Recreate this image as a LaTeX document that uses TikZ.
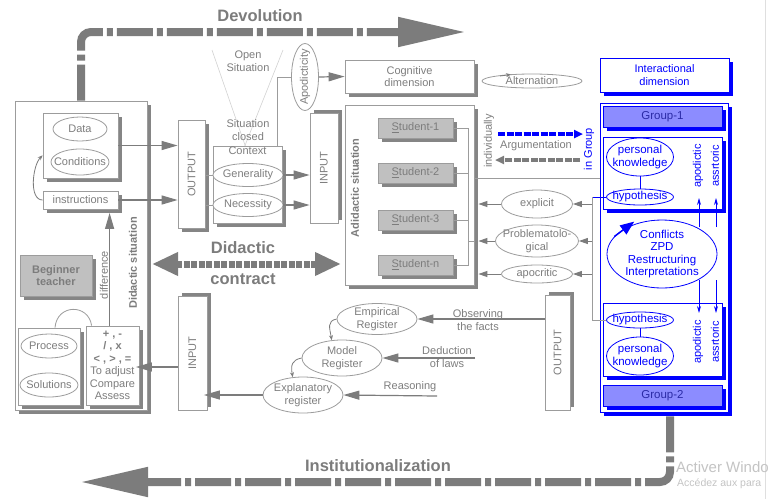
\documentclass[tikz,border=0pt]{standalone}
\usepackage{fontspec}
\setmainfont{Liberation Sans}
\usepackage{tikz}
\usetikzlibrary{positioning,shapes.geometric,shadows,calc,arrows.meta}

\definecolor{tgray}{HTML}{7E7E7E}
\definecolor{lgray}{HTML}{9C9C9C}
\definecolor{sgray}{HTML}{858585}
\definecolor{agray}{HTML}{7C7C7C}
\definecolor{stfill}{HTML}{C0C0C0}
\definecolor{bblue}{HTML}{0000FF}
\definecolor{gfill}{HTML}{8C8CFF}
\definecolor{gtext}{HTML}{2B2BA6}
\definecolor{wmark}{HTML}{C4C4C4}

\newcommand{\dtxt}{\fontsize{11}{12.5}\selectfont}
\newcommand{\btxt}{\fontsize{16.5}{18}\selectfont\bfseries}

\begin{document}
\begin{tikzpicture}[x=1pt, y=-1pt,
    box/.style={draw=lgray, fill=white, line width=0.8pt, align=center,
      font=\dtxt, text=tgray, inner sep=1pt},
    shd/.style={drop shadow={shadow xshift=3.5pt, shadow yshift=-3.5pt,
      fill=sgray, opacity=1}},
    shdup/.style={drop shadow={shadow xshift=3.5pt, shadow yshift=3.5pt,
      fill=sgray, opacity=1}},
    bshd/.style={drop shadow={shadow xshift=4pt, shadow yshift=-4pt,
      fill=bblue, opacity=1}},
    student/.style={box, fill=stfill, text=agray, minimum width=75pt,
      minimum height=20pt, shd},
    bbox/.style={draw=bblue, fill=white, line width=0.8pt, align=center,
      font=\dtxt, text=bblue, inner sep=1pt, bshd},
    group/.style={bbox, fill=gfill, text=gtext, minimum width=119pt,
      minimum height=21pt, font=\fontsize{11.5}{13}\selectfont},
    ell/.style={ellipse, draw=lgray, fill=white, line width=0.8pt, inner sep=0pt},
    bell/.style={ellipse, draw=bblue, fill=white, line width=0.8pt, inner sep=0pt},
    txt/.style={font=\dtxt, text=tgray, align=center, inner sep=1pt},
    every label/.style={font=\dtxt, text=tgray, align=center, inner sep=0pt},
    gline/.style={draw=lgray, line width=0.8pt},
    arrow/.style={draw=agray, line width=1.2pt, -{Triangle[length=16pt, width=9pt]}},
    sarrow/.style={draw=agray, line width=1pt, -{Triangle[length=9pt, width=6pt]}},
    thin arrow/.style={draw=agray, line width=0.8pt, -{Stealth[length=5pt, width=4pt]}},
    barrow/.style={draw=bblue, line width=0.8pt, -{Stealth[length=7pt, width=4pt]}},
    flow/.style={draw=agray, line width=8pt, rounded corners=10pt,
      dash pattern=on 36pt off 4pt on 6pt off 4pt,
      -{Triangle[length=68pt, width=28pt]}},
    contract/.style={draw=agray, line width=7pt, dash pattern=on 6pt off 1.5pt,
      {Triangle[length=26pt, width=22pt]}-{Triangle[length=26pt, width=22pt]}},
    argu/.style={line width=3.2pt, dash pattern=on 7pt off 1.5pt,
      -{Triangle[length=9pt, width=8pt]}}
  ]
    \fill[white] (0,0) rectangle (768,499);
    \useasboundingbox (0,0) rectangle (768,499);
    \draw[gray!25, line width=0.6pt] (765,0) -- (765,499);

    \node[box, minimum width=132pt, minimum height=309pt, shd] (didsit) at (81,255.5) {};
    \node[box, minimum width=75pt, minimum height=65pt, shd] (datab) at (80.5,145.5) {};
    \node[ell, minimum width=54pt, minimum height=24pt, label=center:Data] (data) at (80,129) {};
    \node[ell, minimum width=58pt, minimum height=26pt, label=center:Conditions] (cond) at (80,162) {};
    \node[box, minimum width=75pt, minimum height=18pt, shd] (instr) at (80.5,200) {instructions};
    \node[box, fill=stfill, minimum width=72pt, minimum height=41pt, font=\dtxt\bfseries,
      text=agray, shd] (teacher) at (56,275.5) {Beginner\\teacher};
    \node[box, minimum width=62pt, minimum height=77pt, shd] (procb) at (49,366.5) {};
    \node[ell, minimum width=56pt, minimum height=24pt, label=center:Process] (proc) at (49,346) {};
    \node[ell, minimum width=58pt, minimum height=24pt, label=center:Solutions] (sol) at (49,385) {};
    \node[box, minimum width=53pt, minimum height=79pt, shd] (opb) at (112.5,365.5)
      {\textbf{+ , -}\\\textbf{/ , x}\\\textbf{< , > , =}\\To adjust\\Compare\\Assess};
    \node[txt, rotate=90, font=\dtxt\bfseries, text=agray] (didlab) at (133,263) {Didactic situation};
    \node[txt, rotate=90] (difflab) at (104,275) {difference};
    \coordinate (dft) at ($(opb.north west)+(24,0)$);
    \draw[arrow, shorten >=3.5pt] (dft) -- (dft |- instr.south);
    \draw[thin arrow] (instr.west) .. controls +(-14,0) and +(-10,10) ..
      ($(datab.south west)!0.35!(datab.north west)$);
    \draw[gline] ($(procb.north)+(6,0)$) .. controls +(2,-24) and +(-3,-22) ..
      ($(opb.north west)+(6,0)$);

    \draw[gray!35, line width=0.6pt] (212,50) -- (246,148);
    \draw[gray!35, line width=0.6pt] (283,50) -- (244,148);
    \node[txt] (open) at (248,61) {Open\\Situation};
    \node[txt] (closed) at (248,130) {Situation\\closed};
    \node[box, minimum width=27pt, minimum height=108pt, shd] (out1) at (191.5,174) {\rotatebox{90}{OUTPUT}};
    \node[box, minimum width=69pt, minimum height=77pt, shd] (ctx) at (247.5,184.5) {};
    \node[txt, below=0pt of ctx.north] (ctxlab) {Context};
    \node[ell, minimum width=70pt, minimum height=23pt, label=center:Generality] (gen) at (248,175) {};
    \node[ell, minimum width=70pt, minimum height=23pt, label=center:Necessity] (nec) at (248,205) {};
    \node[box, minimum width=28pt, minimum height=110pt, shdup] (in1) at (324,168) {\rotatebox{90}{INPUT}};
    \node[ell, minimum width=27pt, minimum height=67pt,
      label={[rotate=90]center:Apodicticity}] (apod) at (305,77) {};
    \node[box, minimum width=129pt, minimum height=33pt, shd] (cog) at (409.5,76.5) {Cognitive\\dimension};
    \node[ell, minimum width=100pt, minimum height=14pt, label=center:Alternation] (alt) at (532,81) {};
    \draw[thin arrow] ([xshift=-32pt, yshift=5pt]alt.center) -- ([xshift=-21pt, yshift=6.5pt]alt.center);

    \draw[arrow] (datab.east) -- (datab.east -| out1.west);
    \draw[arrow] (instr.east) -- (instr.east -| out1.west);
    \draw[gline] (gen.west -| out1.east) -- (gen.west);
    \draw[gline] (nec.west -| out1.east) -- (nec.west);
    \draw[arrow] (gen.east) -- (gen.east -| in1.west);
    \draw[arrow] (nec.east) -- (nec.east -| in1.west);
    \draw[gline] ($(ctx.north east)+(-5,0)$) |- (apod.west);
    \draw[arrow] (apod.east) -- (cog.west);

    \node[box, minimum width=129pt, minimum height=180pt, shd] (adid) at (409.5,195) {};
    \node[txt, rotate=90, font=\dtxt\bfseries, text=agray] (adidlab) at (355,188) {Adidactic situation};
    \node[student] (st1) at (415.5,128) {\underline{S}tudent-1};
    \node[student] (st2) at (415.5,173) {\underline{S}tudent-2};
    \node[student] (st3) at (415.5,220) {\underline{S}tudent-3};
    \node[student] (stn) at (415.5,265) {\underline{S}tudent-n};
    \coordinate (jn) at ($(adid.east)+(-6,46)$);
    \foreach \s in {st1,st2,st3,stn}
      \draw[gline] (\s.east) -| (jn);
    \draw[gline] (jn) -- (jn -| adid.east);

    \node[ell, minimum width=71pt, minimum height=28pt, label=center:explicit] (expl) at (537,204) {};
    \node[ell, minimum width=83pt, minimum height=32pt, label={center:Problematolo-\\gical}] (prob) at (537,241) {};
    \node[ell, minimum width=71pt, minimum height=18pt, label=center:apocritic] (apoc) at (537,274) {};
    \draw[sarrow] (expl.west) -- ([xshift=4pt]expl.west -| adid.east);
    \draw[sarrow] (prob.west) -- ([xshift=4pt]prob.west -| adid.east);
    \draw[sarrow] (apoc.west) -- ([xshift=4pt]apoc.west -| adid.east);

    \node[txt, rotate=90] (indiv) at (489,141) {individually};
    \coordinate (argl) at (498,134);
    \coordinate (argr) at (583,134);
    \coordinate (retr) at (580,160);
    \coordinate (retl) at (495,160);
    \draw[argu, draw=bblue] (argl) -- (argr);
    \draw[argu, draw=agray] (retr) -- (retl);
    \node[txt] (argtxt) at (536,146) {Argumentation};
    \node[txt, rotate=90, text=bblue] (ingroup) at (589,149) {in Group};

    \node[bbox, minimum width=129pt, minimum height=34pt] (inter) at (664.5,75) {Interactional\\dimension};
    \node[bbox, minimum width=128pt, minimum height=309pt] (grp) at (664,257.5) {};
    \draw[gline] ([yshift=17pt]adid.east) -- ([yshift=17pt]adid.east -| grp.west);
    \node[group] (g1) at (662.5,116.5) {Group-1};
    \node[bbox, minimum width=119pt, minimum height=72pt] (kb1) at (662.5,173) {};
    \node[bell, minimum width=67pt, minimum height=38pt,
      label={[text=bblue, font=\fontsize{11.5}{13}\selectfont]center:personal\\knowledge}] (pk1) at (640,157) {};
    \node[bell, minimum width=67pt, minimum height=16pt,
      label={[text=bblue, font=\fontsize{11.5}{13}\selectfont]center:hypothesis}] (hyp1) at (640,197) {};
    \draw[draw=bblue, line width=0.8pt] (pk1.south) -- (hyp1.north);
    \node[txt, rotate=90, text=bblue] (apo1) at (698,166) {apodictic};
    \node[txt, rotate=90, text=bblue] (ass1) at (715,166) {assrtoric};
    \node[bell, minimum width=110pt, minimum height=68pt,
      label={[text=bblue, font=\fontsize{11.5}{12.5}\selectfont]center:Conflicts\\ZPD\\Restructuring\\Interpretations}] (conf) at (662,254) {};
    \draw[draw=bblue, line width=1.5pt, -{Triangle[length=14pt, width=11pt]}] (conf.160) -- ++(20,-15);
    \coordinate (ua1) at (699,227);
    \coordinate (ua2) at (716,227);
    \draw[barrow] (ua1) -- ++(0,-29);
    \draw[barrow] (ua2) -- ++(0,-29);

    \node[bbox, minimum width=119pt, minimum height=73pt] (kb2) at (662.5,339.5) {};
    \node[bell, minimum width=67pt, minimum height=16pt,
      label={[text=bblue, font=\fontsize{11.5}{13}\selectfont]center:hypothesis}] (hyp2) at (640,320) {};
    \node[bell, minimum width=67pt, minimum height=38pt,
      label={[text=bblue, font=\fontsize{11.5}{13}\selectfont]center:personal\\knowledge}] (pk2) at (640,356) {};
    \draw[draw=bblue, line width=0.8pt] (hyp2.south) -- (pk2.north);
    \node[txt, rotate=90, text=bblue] (apo2) at (698,342) {apodictic};
    \node[txt, rotate=90, text=bblue] (ass2) at (715,342) {assrtoric};
    \coordinate (da1) at (699,280);
    \coordinate (da2) at (716,280);
    \draw[barrow] (da1) -- ++(0,33);
    \draw[barrow] (da2) -- ++(0,33);
    \node[group] (g2) at (662.5,395.5) {Group-2};

    \coordinate (vt) at ($(hyp1.west)+(-14,0)$);
    \draw[draw=bblue, line width=0.8pt] (hyp1.west) -- (vt);
    \draw[gline] (vt) |- (hyp2.west);
    \draw[sarrow] (vt |- expl.east) -- (expl.east);
    \draw[sarrow] (vt |- prob.east) -- (prob.east);
    \draw[sarrow] (vt |- apoc.east) -- (apoc.east);

    \coordinate (dcl) at (152,264);
    \coordinate (dcr) at (341,264);
    \draw[contract] (dcl) -- (dcr);
    \node[txt, font=\btxt, text=agray] (didac) at (243,248) {Didactic};
    \node[txt, font=\btxt, text=agray] (contr) at (243,279) {contract};

    \node[box, minimum width=29pt, minimum height=114pt, shdup] (in2) at (192.5,353) {\rotatebox{90}{INPUT}};
    \node[box, minimum width=25pt, minimum height=115pt, shdup] (out2) at (557.5,352.5) {\rotatebox{90}{OUTPUT}};
    \node[ell, minimum width=80pt, minimum height=31pt, label={center:Empirical\\Register}] (emp) at (377,319) {};
    \node[ell, minimum width=80pt, minimum height=36pt, label={center:Model\\Register}] (mod) at (342,358) {};
    \node[ell, minimum width=80pt, minimum height=36pt, label={center:Explanatory\\register}] (expr) at (303,395) {};
    \draw[thin arrow] (emp.west) .. controls +(-10,2) and +(-2,-12) .. (mod.120);
    \draw[thin arrow] (mod.west) .. controls +(-10,2) and +(-2,-12) .. (expr.120);
    \draw[arrow] (emp.east -| out2.west) -- (emp.east);
    \node[txt] (obs) at (478,320) {Observing\\the facts};
    \coordinate (dedr) at (475,358);
    \draw[arrow] (dedr) -- (mod.east);
    \node[txt] (ded) at (447,357) {Deduction\\of laws};
    \coordinate (reas) at (437,396);
    \draw[arrow] (reas) -- (expr.east);
    \node[txt] (reasl) at (410,387) {Reasoning};
    \draw[arrow, shorten >=-3.5pt] (expr.west) -- (expr.west -| in2.east);
    \coordinate (fb) at ([yshift=-14pt]in2.west);
    \draw[arrow, shorten >=-3.5pt] (fb) -- (fb -| opb.east);

    \coordinate (devend) at (466,32);
    \draw[flow] (didsit.north) |- (devend);
    \node[txt, font=\btxt, text=agray] (devlab) at (260,16) {Devolution};
    \coordinate (instend) at (80,482);
    \draw[flow] ([shift={(6,4)}]grp.south) |- (instend);
    \node[txt, font=\btxt, text=agray] (instlab) at (378,466) {Institutionalization};

    \node[anchor=west, font=\fontsize{15}{15}\selectfont, text=wmark, inner sep=0pt] (wm1) at (676,467) {Activer Windo};
    \node[anchor=west, font=\fontsize{10.5}{11}\selectfont, text=wmark, inner sep=0pt] (wm2) at (677,484) {Accédez aux para};
  \end{tikzpicture}
\end{document}
